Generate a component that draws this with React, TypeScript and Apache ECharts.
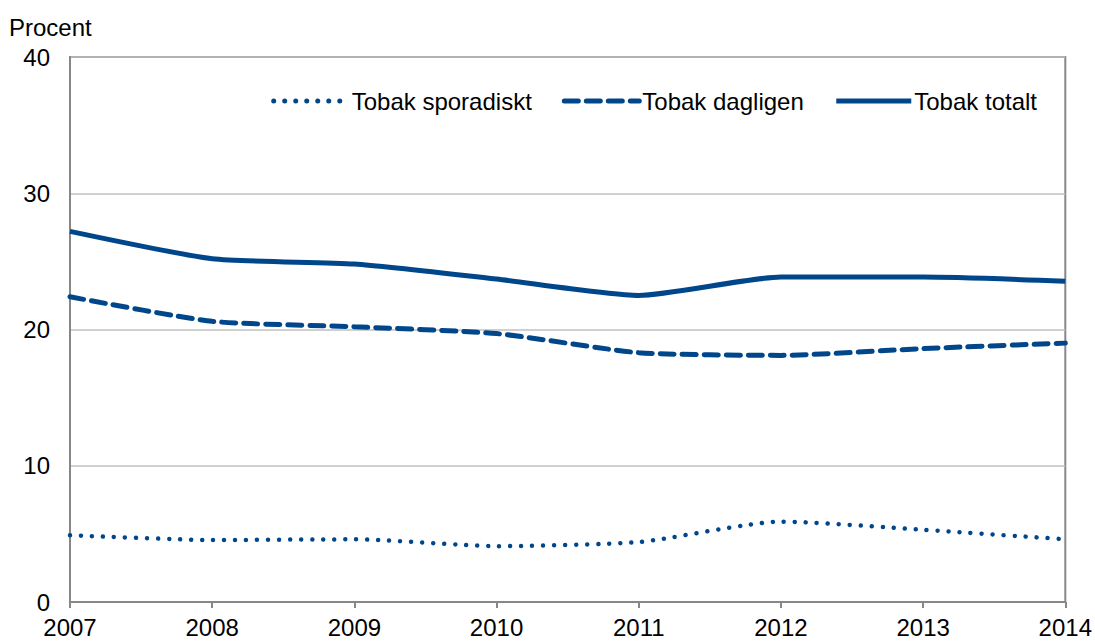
import React, { useEffect, useRef } from "react";
import * as echarts from "echarts";

const years = ["2007", "2008", "2009", "2010", "2011", "2012", "2013", "2014"];
const sporadiskt = [4.9, 4.55, 4.6, 4.1, 4.4, 5.9, 5.3, 4.6];
const dagligen = [22.4, 20.6, 20.2, 19.7, 18.3, 18.1, 18.6, 19.0];
const totalt = [27.2, 25.2, 24.8, 23.7, 22.5, 23.85, 23.85, 23.55];
const color = "#00468b";
const font = "Liberation Sans, Arial, sans-serif";

export default function App() {
  const ref = useRef<HTMLDivElement>(null);
  useEffect(() => {
    const chart = echarts.init(ref.current!, null, { renderer: "svg" });
    chart.setOption({
      animation: false,
      textStyle: { fontFamily: font },
      grid: { left: 70, right: 29, top: 57, bottom: 39, show: true, borderColor: "#878787", borderWidth: 2, backgroundColor: "transparent" },
      graphic: [{ type: "text", left: 9, top: 15, style: { text: "Procent", fontSize: 24, fontFamily: font, fill: "#000" } }],
      legend: {
        right: 53, top: 84, itemWidth: 75, itemHeight: 5, itemGap: 30,
        itemStyle: { opacity: 0 },
        lineStyle: { width: 5 },
        textStyle: { fontSize: 24, color: "#000", fontFamily: font, padding: [0, 0, 0, -2] },
        data: ["Tobak sporadiskt", "Tobak dagligen", "Tobak totalt"],
      },
      xAxis: {
        type: "category", data: years, boundaryGap: false,
        axisLine: { lineStyle: { color: "#878787", width: 2 } },
        axisTick: { show: true, length: 6, lineStyle: { color: "#878787", width: 2 } },
        axisLabel: { fontSize: 24, color: "#000", margin: 13, fontFamily: font },
      },
      yAxis: {
        type: "value", min: 0, max: 40, interval: 10,
        axisLine: { show: true, lineStyle: { color: "#878787", width: 2 } },
        axisTick: { show: false },
        axisLabel: { fontSize: 24, color: "#000", margin: 20, fontFamily: font },
        splitLine: { lineStyle: { color: "#c0c0c0", width: 1.5 } },
      },
      series: [
        { name: "Tobak sporadiskt", type: "line", data: sporadiskt, symbol: "none", smooth: 0.2, color,
          lineStyle: { color, width: 4.5, type: [0.01, 11], cap: "round" } },
        { name: "Tobak dagligen", type: "line", data: dagligen, symbol: "none", smooth: 0.2, color,
          lineStyle: { color, width: 5, type: [14, 8], cap: "round" } },
        { name: "Tobak totalt", type: "line", data: totalt, symbol: "none", smooth: 0.2, color,
          lineStyle: { color, width: 5 } },
      ],
    });
    return () => chart.dispose();
  }, []);
  return <div ref={ref} style={{ width: 1095, height: 641, position: "absolute", left: 0, top: 0 }} />;
}
